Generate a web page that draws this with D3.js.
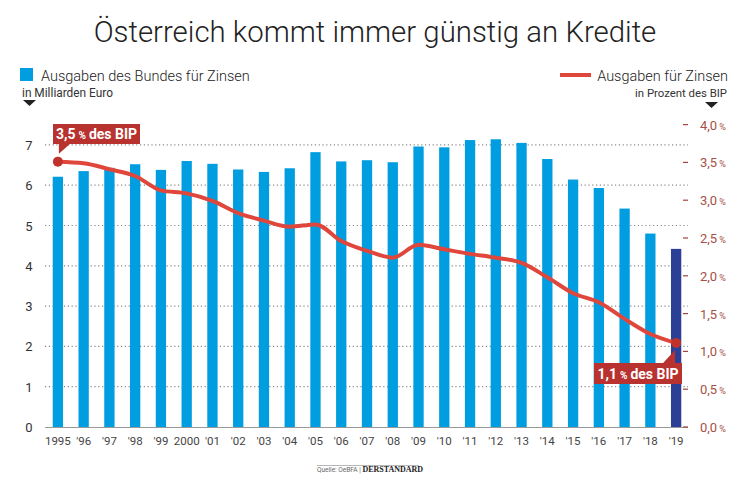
<!DOCTYPE html>
<html><head><meta charset="utf-8">
<script src="https://cdn.jsdelivr.net/npm/d3@7"></script>
<style>body{margin:0;background:#fff}svg{display:block}text{font-family:Roboto,"Open Sans",sans-serif}</style>
</head><body><svg id="c" width="750" height="487"></svg>
<script>
const years = ["1995","'96","'97","'98","'99","2000","'01","'02","'03","'04","'05","'06","'07","'08","'09","'10","'11","'12","'13","'14","'15","'16","'17","'18","'19"];
const spending = [6.21,6.35,6.43,6.52,6.38,6.6,6.53,6.39,6.33,6.42,6.82,6.59,6.62,6.57,6.96,6.94,7.12,7.14,7.05,6.65,6.14,5.93,5.42,4.8,4.42];
const pctGDP = [3.51,3.49,3.41,3.32,3.13,3.09,2.99,2.83,2.73,2.65,2.68,2.46,2.33,2.24,2.41,2.35,2.29,2.24,2.17,1.98,1.77,1.65,1.43,1.23,1.11];
const leftTicks = [0,1,2,3,4,5,6,7];
const rightTicks = [0,0.5,1,1.5,2,2.5,3,3.5,4];

const svg = d3.select("#c");
const x = d3.scaleBand().domain(years).range([45,689]).paddingInner(0.6).paddingOuter(0.3);
const yL = d3.scaleLinear().domain([0,7]).range([427,144.9]);
const yR = d3.scaleLinear().domain([0,4]).range([427,124.6]);

// shrink font-size so the natural width matches the reference width
function fit(sel, w){ const n=sel.node(); const l=n.getComputedTextLength(); const fs=+sel.attr("font-size"); if(l>0) sel.attr("font-size",fs*w/l); return sel; }

// title
fit(svg.append("text").attr("x",375).attr("y",42).attr("text-anchor","middle")
  .attr("font-size",35).attr("font-weight",300).attr("fill","#222").text("Österreich kommt immer günstig an Kredite"),563);

// legends
svg.append("rect").attr("x",20).attr("y",68).attr("width",13).attr("height",13).attr("fill","#009ee0");
fit(svg.append("text").attr("x",41).attr("y",81).attr("font-size",17).attr("font-weight",300).attr("fill","#222").text("Ausgaben des Bundes für Zinsen"),209);
fit(svg.append("text").attr("x",22).attr("y",97).attr("font-size",11.5).attr("fill","#333").text("in Milliarden Euro"),91);
svg.append("path").attr("d","M23,100 L36,100 L29.5,106 Z").attr("fill","#222");

svg.append("line").attr("x1",560).attr("x2",591).attr("y1",75).attr("y2",75).attr("stroke","#e0473c").attr("stroke-width",4);
fit(svg.append("text").attr("x",728).attr("y",81).attr("text-anchor","end").attr("font-size",17).attr("font-weight",300).attr("fill","#222").text("Ausgaben für Zinsen"),131);
fit(svg.append("text").attr("x",727).attr("y",97).attr("text-anchor","end").attr("font-size",11.5).attr("fill","#333").text("in Prozent des BIP"),92);
svg.append("path").attr("d","M705,102 L718,102 L711.5,108 Z").attr("fill","#222");

// gridlines
svg.append("g").selectAll("line").data(leftTicks.filter(d=>d>0)).join("line")
  .attr("x1",45).attr("x2",688).attr("y1",d=>yL(d)).attr("y2",d=>yL(d))
  .attr("stroke","#888").attr("stroke-width",1.2).attr("stroke-dasharray","1.2,2.6");

// left axis labels
svg.append("g").selectAll("text").data(leftTicks).join("text")
  .attr("x",29).attr("y",d=>yL(d)+5).attr("text-anchor","middle").attr("font-size",13).attr("fill","#333").text(d=>d);

// bars
svg.append("g").selectAll("rect").data(spending).join("rect")
  .attr("x",(d,i)=>x(years[i])).attr("width",x.bandwidth())
  .attr("y",d=>yL(d)).attr("height",d=>yL(0)-yL(d))
  .attr("fill",(d,i)=>i===years.length-1?"#2b3f96":"#009ee0");

// baseline
svg.append("line").attr("x1",45).attr("x2",688).attr("y1",427.5).attr("y2",427.5).attr("stroke","#999").attr("stroke-width",1);

// right axis
const ra = svg.append("g");
ra.selectAll("line").data(rightTicks).join("line")
  .attr("x1",683).attr("x2",688).attr("y1",d=>yR(d)).attr("y2",d=>yR(d)).attr("stroke","#a0453f").attr("stroke-width",1.2);
const rt = ra.selectAll("text").data(rightTicks).join("text")
  .attr("x",700).attr("y",d=>yR(d)+5).attr("font-size",13).attr("fill","#a65048");
rt.append("tspan").text(d=>d.toFixed(1).replace(".",","));
rt.append("tspan").attr("font-size",9).attr("dx",2).text("%");

// x labels
svg.append("g").selectAll("text").data(years).join("text")
  .attr("x",d=>x(d)+x.bandwidth()/2).attr("y",445).attr("text-anchor","middle").attr("font-size",11.5).attr("fill","#444").text(d=>d);

// line
const cx = (i)=>x(years[i])+x.bandwidth()/2;
svg.append("path").datum(pctGDP)
  .attr("d",d3.line().x((d,i)=>cx(i)).y(d=>yR(d)).curve(d3.curveMonotoneX))
  .attr("fill","none").attr("stroke","#e0473c").attr("stroke-width",4).attr("stroke-linejoin","round");
const last = pctGDP.length-1;
svg.append("g").selectAll("circle").data([0,last]).join("circle")
  .attr("cx",i=>cx(i)).attr("cy",i=>yR(pctGDP[i])).attr("r",5).attr("fill","#c0332d");

// annotations
function label(bx,by,w,h,ptr,txt){
  svg.append("path").attr("d",ptr).attr("fill","#b8322f");
  svg.append("rect").attr("x",bx).attr("y",by).attr("width",w).attr("height",h).attr("fill","#b8322f");
  const tt = svg.append("text").attr("x",bx+w/2).attr("y",by+h/2+5).attr("text-anchor","middle").attr("fill","#fff").attr("font-weight",700).attr("font-size",14);
  tt.append("tspan").text(txt[0]);
  tt.append("tspan").attr("font-size",10).attr("dx",3).text("%");
  tt.append("tspan").attr("dx",3).text(txt[1]);
}
const p0x=cx(0), p0y=yR(pctGDP[0]);
label(53,124,87,20,`M${p0x+1},${p0y-8} L${p0x+1},144 L${p0x+12},144 Z`,["3,5","des BIP"]);
const pLx=cx(last), pLy=yR(pctGDP[last]);
label(594,363,88,21,`M${pLx-1},${pLy+7} L${pLx-1},363 L${pLx-13},363 Z`,["1,1","des BIP"]);

// source
svg.append("line").attr("x1",317).attr("x2",419).attr("y1",465.5).attr("y2",465.5).attr("stroke","#999").attr("stroke-width",0.7);
const s = svg.append("text").attr("x",317).attr("y",472).attr("font-size",6.5).attr("fill","#666");
s.append("tspan").text("Quelle: OeBFA | ");
s.append("tspan").attr("font-family","'Liberation Serif',serif").attr("font-weight",700).attr("fill","#222").attr("font-size",8).text("DERSTANDARD");
</script></body></html>
